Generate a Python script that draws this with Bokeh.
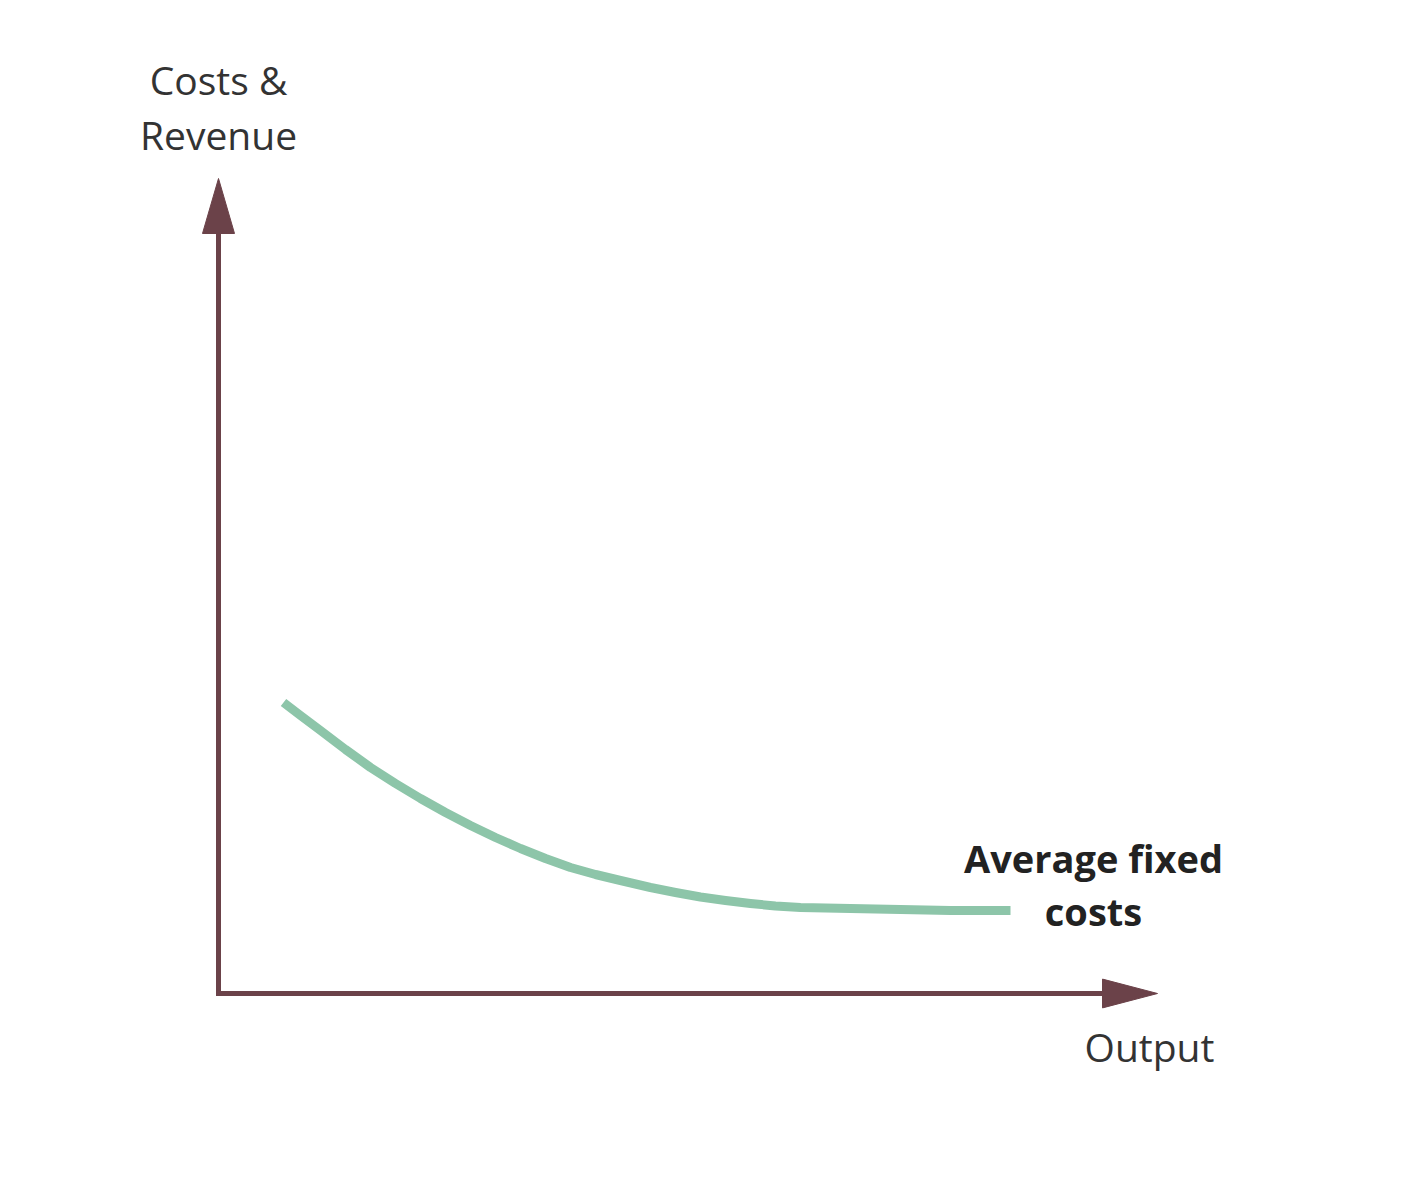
from bokeh.plotting import figure
from bokeh.models import Range1d, ColumnDataSource
from bokeh.core.properties import value
from bokeh.embed import file_html
from bokeh.resources import INLINE

# ---- data (schematic: output vs. average fixed cost) ----
output_q = [0.65, 0.82, 1.02, 1.27, 1.52, 1.77, 2.02, 2.27, 2.52, 2.77, 3.02, 3.27, 3.52, 3.77,
            4.02, 4.32, 4.57, 4.82, 5.07, 5.32, 5.57, 5.82, 6.32, 6.82, 7.32, 7.92]
afc = [2.91, 2.78, 2.63, 2.44, 2.26, 2.10, 1.95, 1.81, 1.68, 1.56, 1.45, 1.35, 1.26, 1.19,
       1.13, 1.06, 1.01, 0.965, 0.93, 0.90, 0.875, 0.86, 0.85, 0.84, 0.83, 0.83]
x_axis_end = 9.39
y_axis_end = 8.15
y_axis_label = ["Costs &", "Revenue"]
x_axis_label = "Output"
curve_label = ["Average fixed", "costs"]

AXIS_COLOR = "#6b4249"
CURVE_COLOR = "#8dc5a9"
FONT = "Open Sans"

W, H = 1412, 1184
XMIN, YMAX = -2.18, 9.93
p = figure(width=W, height=H, output_backend="svg", toolbar_location=None,
           x_range=Range1d(XMIN, XMIN + W / 100), y_range=Range1d(YMAX - H / 100, YMAX),
           min_border=0, outline_line_color=None)
p.axis.visible = False
p.grid.visible = False
p.background_fill_color = "white"
p.border_fill_color = "white"

head_len = 0.55
head_half = 0.16

# axis lines
p.line([0, 0, x_axis_end - head_len], [y_axis_end - head_len, 0, 0],
       line_color=AXIS_COLOR, line_width=5, line_join="miter")
# arrowheads
p.patches(
    [[-head_half, 0, head_half], [x_axis_end - head_len, x_axis_end, x_axis_end - head_len]],
    [[y_axis_end - head_len, y_axis_end, y_axis_end - head_len], [head_half * 0.9, 0, -head_half * 0.9]],
    fill_color=AXIS_COLOR, line_color=AXIS_COLOR, line_width=1)

# curve
src = ColumnDataSource(dict(x=output_q, y=afc))
p.line("x", "y", source=src, line_color=CURVE_COLOR, line_width=9,
       line_cap="butt", line_join="round")

# labels
p.text(x=[0, 0], y=[9.14, 8.59], text=y_axis_label, text_font=value(FONT),
       text_font_size="39px", text_color="#333333", text_align="center",
       text_baseline="alphabetic")
p.text(x=[9.31], y=[-0.53], text=[x_axis_label], text_font=value(FONT),
       text_font_size="39px", text_color="#333333", text_align="center",
       text_baseline="alphabetic")
p.text(x=[8.75, 8.75], y=[1.36, 0.83], text=curve_label, text_font=value(FONT),
       text_font_size="38px", text_font_style="bold", text_color="#222222",
       text_align="center", text_baseline="alphabetic")

open("out.html", "w").write(file_html(p, INLINE))
